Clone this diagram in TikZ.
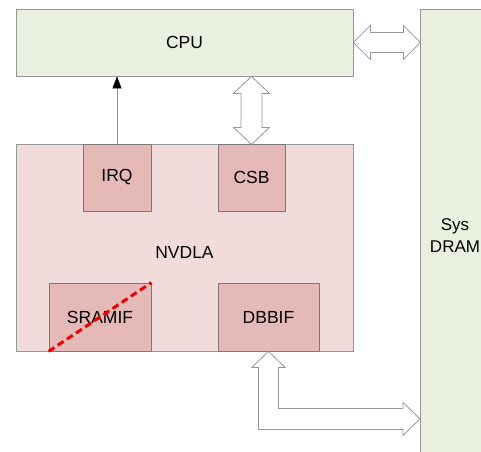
\documentclass[tikz,border=0pt]{standalone}
\usepackage{fontspec}
\setmainfont{Liberation Sans}
\usetikzlibrary{arrows.meta,calc}
\definecolor{bordergray}{RGB}{150,150,150}
\definecolor{cpugreen}{RGB}{233,240,223}
\definecolor{nvpink}{RGB}{242,220,219}
\definecolor{subpink}{RGB}{229,185,183}
\definecolor{dashred}{RGB}{240,0,0}
\tikzset{
  box/.style={draw=bordergray, line width=0.8pt, inner sep=0pt,
    font=\fontsize{17.5}{22}\selectfont, align=center},
  greenbox/.style={box, fill=cpugreen},
  nvbox/.style={box, fill=nvpink},
  subbox/.style={box, fill=subpink, draw=bordergray!80!black},
  blockarrow/.style={draw=bordergray, line width=0.8pt, fill=white, line join=miter},
  lbl/.style={font=\fontsize{17.5}{22}\selectfont, inner sep=0pt, align=center}
}
\begin{document}
\begin{tikzpicture}[x=1pt,y=-1pt]
\clip (0,0) rectangle (481,451);
\fill[white] (0,0) rectangle (481,451);
% CPU
\node[greenbox, minimum width=337pt, minimum height=67pt] (cpu) at (184.5,42.5) {CPU};
% Sys DRAM
\node[greenbox, minimum width=70pt, minimum height=452pt] (dram) at (455,235) {};
\node[lbl, font=\fontsize{17}{22}\selectfont] (dramlabel) at (455,236) {Sys\\DRAM};
% NVDLA
\node[nvbox, minimum width=337pt, minimum height=207pt] (nvdla) at (184.5,247.5) {};
\node[lbl] (nvdlalabel) at (184.5,252) {NVDLA};
% sub-blocks
\node[subbox, minimum width=68pt, minimum height=67pt] (irq) at (117,177.5) {IRQ};
\node[subbox, minimum width=67pt, minimum height=67pt] (csb) at (251.5,177.5) {CSB};
\node[subbox, minimum width=102pt, minimum height=68pt] (sramif) at (100,317) {SRAMIF};
\node[subbox, minimum width=101pt, minimum height=68pt] (dbbif) at (268.5,317) {DBBIF};
% IRQ arrow
\draw[bordergray, line width=0.8pt, -{Triangle[length=12pt,width=9pt,black]}] (irq.north) -- (irq.north |- cpu.south);
% CSB block arrow
\coordinate (csbtop) at (csb.north |- cpu.south);
\draw[blockarrow] (csbtop) -- ++(18,17) -- ++(-7.5,0) -- ++(0,34) -- ++(7.5,0) -- ++(-18,17)
  -- ++(-18,-17) -- ++(7.5,0) -- ++(0,-34) -- ++(-7.5,0) -- cycle;
% CPU - DRAM block arrow
\draw[blockarrow] (cpu.east) -- ++(17,-17) -- ++(0,7) -- ++(33,0) -- ++(0,-7) -- ++(17,17)
  -- ++(-17,17) -- ++(0,-7) -- ++(-33,0) -- ++(0,7) -- cycle;
% DBBIF - DRAM block arrow
\draw[blockarrow] (dbbif.south) -- ++(16.5,16) -- ++(-6.5,0) -- ++(0,41) -- ++(124.5,0) -- ++(0,-6)
  -- ++(17,16.5) -- ++(-17,16.5) -- ++(0,-6) -- ++(-144.5,0) -- ++(0,-62) -- ++(-6.5,0) -- cycle;
% red dashed cross-out
\draw[dashred, line width=3pt, dash pattern=on 7pt off 4pt] (sramif.south west) -- (sramif.north east);
\end{tikzpicture}
\end{document}
